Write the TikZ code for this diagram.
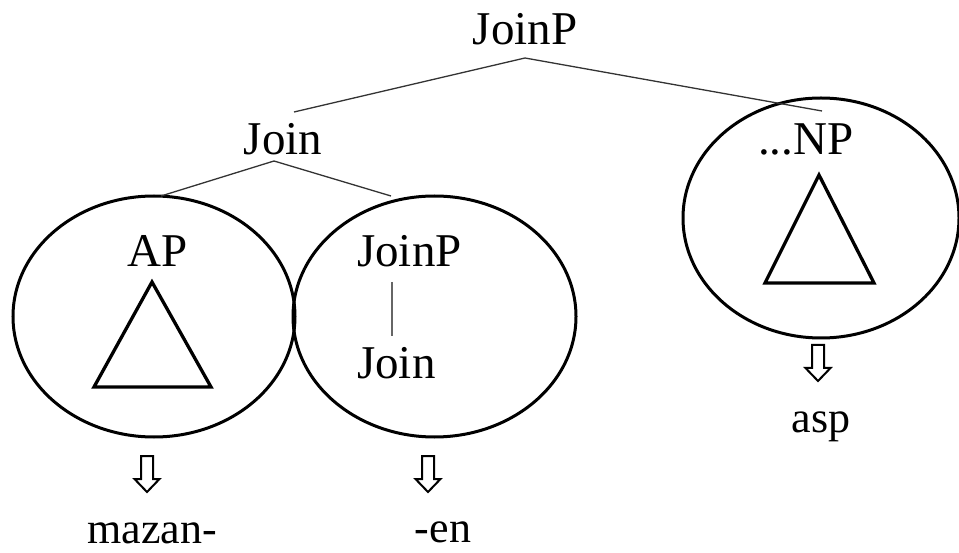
\documentclass[tikz,border=0pt]{standalone}
\usepackage{fontspec}
\setmainfont{Liberation Serif}
\usetikzlibrary{shapes.geometric}

\tikzset{
  lbl/.style={inner sep=0pt, anchor=base, font=\fontsize{47}{52}\selectfont},
  lbll/.style={lbl, anchor=base west},
  word/.style={inner sep=0pt, anchor=base, font=\fontsize{44}{50}\selectfont},
  branch/.style={draw=black!80, line width=1.3pt},
  unary/.style={draw=black!60, line width=1.2pt},
  bubble/.style={ellipse, draw, line width=3pt, inner sep=0pt},
  tri/.style={draw, line width=3.3pt, line join=miter},
  hollowarrow/.pic={
    \draw[line width=2pt, line join=miter]
      (-6,0) -- (6,0) -- (6,23) -- (12.5,23) -- (0,36) -- (-12.5,23) -- (-6,23) -- cycle;
  }
}

\begin{document}
\begin{tikzpicture}[x=1pt, y=-1pt]
  \useasboundingbox (0,0) rectangle (959,553);

  % bubbles around the constituents
  \node[bubble, minimum width=282pt, minimum height=241pt] (apbub) at (154,316.5) {};
  \node[bubble, minimum width=283pt, minimum height=241pt] (jpbub) at (434.5,316.5) {};
  \node[bubble, minimum width=276pt, minimum height=240pt] (npbub) at (821,218) {};

  % category labels
  \node[lbl] (root) at (525,45) {JoinP};
  \node[lbl] (join) at (283,155) {Join};
  \node[lbl] (ap) at (158,267) {AP};
  \node[lbll] (joinp2) at (357,267) {JoinP};
  \node[lbll] (join2) at (357,378) {Join};
  \node[lbll] (np) at (758,155) {...NP};

  % attachment points of the branches
  \coordinate (rootfoot) at (525,58);
  \coordinate (jointop) at (294,112);
  \coordinate (nptop) at (822,111);
  \coordinate (joinfoot) at (274,161);
  \coordinate (apbubtop) at (161,196);
  \coordinate (jpbubtop) at (391,196);
  \coordinate (jp2foot) at (392,282);
  \coordinate (join2top) at (392,336);

  \draw[branch] (jointop) -- (rootfoot) -- (nptop);
  \draw[branch] (apbubtop) -- (joinfoot) -- (jpbubtop);
  \draw[unary] (jp2foot) -- (join2top);

  % triangles for unanalysed phrases
  \draw[tri] (152,282) -- (211,387) -- (94,387) -- cycle;
  \draw[tri] (819,175) -- (874,283) -- (765,283) -- cycle;

  % spell-out arrows
  \pic at (147,456) {hollowarrow};
  \pic at (428,456) {hollowarrow};
  \pic at (818,345) {hollowarrow};

  % exponents
  \node[word] (mazan) at (152,543) {mazan-};
  \node[word] (en) at (443,542) {-en};
  \node[word] (asp) at (821,432) {asp};
\end{tikzpicture}
\end{document}
